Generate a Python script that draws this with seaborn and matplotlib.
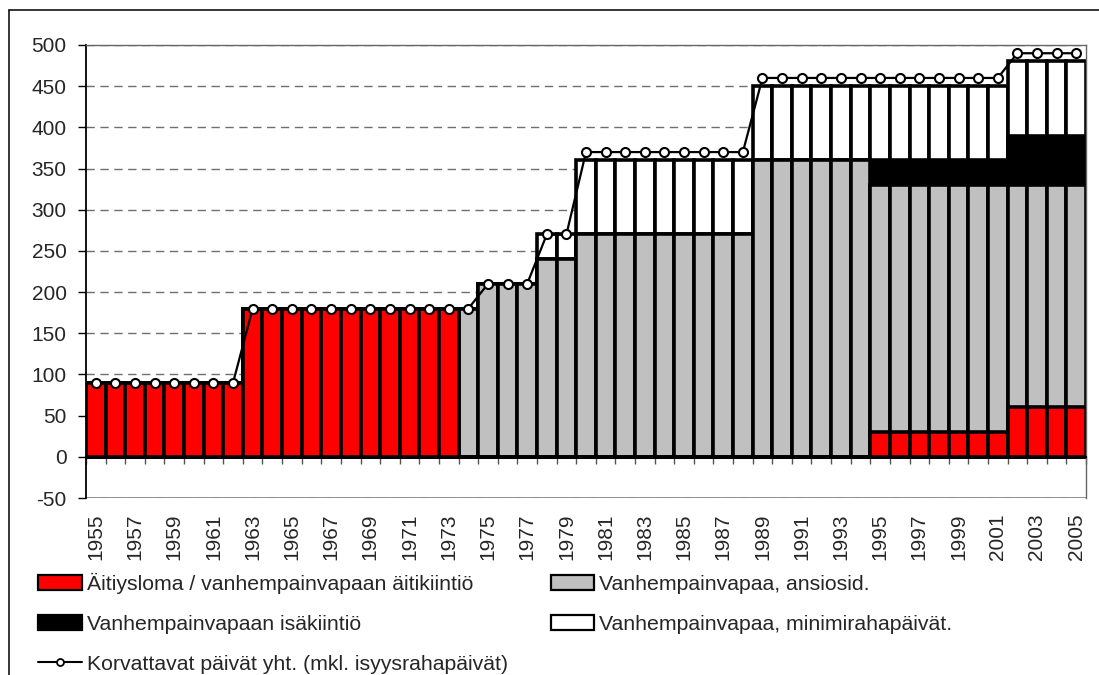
import numpy as np
import pandas as pd
import matplotlib
matplotlib.use("Agg")
import matplotlib.pyplot as plt
from matplotlib.patches import Patch
from matplotlib.lines import Line2D
import seaborn as sns

# --- data (days per year) ---
years = list(range(1955, 2006))

# Äitiysloma / vanhempainvapaan äitikiintiö
aiti = [90, 90, 90, 90, 90, 90, 90, 90, 180, 180,        # 1955-1964
        180, 180, 180, 180, 180, 180, 180, 180, 180, 0,  # 1965-1974
        0, 0, 0, 0, 0, 0, 0, 0, 0, 0,                    # 1975-1984
        0, 0, 0, 0, 0, 0, 0, 0, 0, 0,                    # 1985-1994
        30, 30, 30, 30, 30, 30, 30, 60, 60, 60,          # 1995-2004
        60]                                              # 2005

# Vanhempainvapaa, ansiosid.
ansio = [0, 0, 0, 0, 0, 0, 0, 0, 0, 0,
         0, 0, 0, 0, 0, 0, 0, 0, 0, 180,
         210, 210, 210, 240, 240, 270, 270, 270, 270, 270,
         270, 270, 270, 270, 360, 360, 360, 360, 360, 360,
         300, 300, 300, 300, 300, 300, 300, 270, 270, 270,
         270]

# Vanhempainvapaan isäkiintiö
isa = [0, 0, 0, 0, 0, 0, 0, 0, 0, 0,
       0, 0, 0, 0, 0, 0, 0, 0, 0, 0,
       0, 0, 0, 0, 0, 0, 0, 0, 0, 0,
       0, 0, 0, 0, 0, 0, 0, 0, 0, 0,
       30, 30, 30, 30, 30, 30, 30, 60, 60, 60,
       60]

# Vanhempainvapaa, minimirahapäivät
minimi = [0, 0, 0, 0, 0, 0, 0, 0, 0, 0,
          0, 0, 0, 0, 0, 0, 0, 0, 0, 0,
          0, 0, 0, 30, 30, 90, 90, 90, 90, 90,
          90, 90, 90, 90, 90, 90, 90, 90, 90, 90,
          90, 90, 90, 90, 90, 90, 90, 90, 90, 90,
          90]

# Korvattavat päivät yht. (mkl. isyysrahapäivät)
yht = [90, 90, 90, 90, 90, 90, 90, 90, 180, 180,
       180, 180, 180, 180, 180, 180, 180, 180, 180, 180,
       210, 210, 210, 270, 270, 370, 370, 370, 370, 370,
       370, 370, 370, 370, 460, 460, 460, 460, 460, 460,
       460, 460, 460, 460, 460, 460, 460, 490, 490, 490,
       490]

y_ticks = [-50, 0, 50, 100, 150, 200, 250, 300, 350, 400, 450, 500]

labels = ["Äitiysloma / vanhempainvapaan äitikiintiö",
          "Vanhempainvapaa, ansiosid.",
          "Vanhempainvapaan isäkiintiö",
          "Vanhempainvapaa, minimirahapäivät.",
          "Korvattavat päivät yht. (mkl. isyysrahapäivät)"]

RED = "#ff0000"
GREY = "#c0c0c0"


def main():
    sns.set_style("white")
    plt.rcParams["font.family"] = ["Liberation Sans", "DejaVu Sans"]

    df = pd.DataFrame({"vuosi": years, "aiti": aiti, "ansio": ansio,
                       "isa": isa, "minimi": minimi, "yht": yht})
    # stack tops
    df["c_aiti"] = df["aiti"]
    df["c_ansio"] = df["c_aiti"] + df["ansio"]
    df["c_isa"] = df["c_ansio"] + df["isa"]
    df["c_minimi"] = df["c_isa"] + df["minimi"]

    fig = plt.figure(figsize=(10.99, 6.75), dpi=100)
    ax = fig.add_axes([86 / 1099, 1 - 498 / 675, 1000 / 1099, 453 / 675])

    # draw the tallest layer first, lower layers on top of it
    for col, color in [("c_minimi", "white"), ("c_isa", "black"),
                       ("c_ansio", GREY), ("c_aiti", RED)]:
        sns.barplot(data=df, x="vuosi", y=col, color=color, saturation=1,
                    width=1.0, edgecolor="black", linewidth=2.6,
                    errorbar=None, ax=ax, zorder=2)

    sns.pointplot(data=df, x="vuosi", y="yht", color="black", markers="o",
                  linewidth=1.6, markersize=6.5, markerfacecolor="white",
                  markeredgecolor="black", markeredgewidth=1.5,
                  errorbar=None, ax=ax, zorder=5)

    ax.set_xlabel("")
    ax.set_ylabel("")
    ax.set_ylim(-50, 500)
    ax.set_xlim(-0.5, len(years) - 0.5)
    ax.set_yticks(y_ticks)
    ax.set_yticklabels([str(v) for v in y_ticks])

    ax.set_xticks(range(len(years)))
    ax.set_xticklabels([str(y) if i % 2 == 0 else "" for i, y in enumerate(years)])
    ax.set_xticks(np.arange(len(years) + 1) - 0.5, minor=True)

    ax.tick_params(axis="x", which="major", bottom=True, length=0, pad=41,
                   labelsize=15, labelrotation=90)
    ax.tick_params(axis="x", which="minor", bottom=True, length=5, width=1,
                   color="#555555", direction="out")
    ax.tick_params(axis="y", left=True, length=6, width=1, color="black",
                   direction="out", pad=8, labelsize=15)

    ax.set_axisbelow(True)
    ax.yaxis.grid(True, color="#6f6f6f", linestyle=(0, (6, 4)), linewidth=1)
    ax.xaxis.grid(False)
    ax.axhline(-50, color="#7f7f7f", linewidth=1.2, zorder=1)

    ax.spines["bottom"].set_position(("data", 0))
    ax.spines["bottom"].set_color("black")
    ax.spines["bottom"].set_linewidth(1.5)
    ax.spines["left"].set_color("black")
    ax.spines["left"].set_linewidth(1.3)
    for s in ["top", "right"]:
        ax.spines[s].set_visible(True)
        ax.spines[s].set_color("#666666")
        ax.spines[s].set_linewidth(1)

    # legend: column 1 -> red, black, line; column 2 -> grey, white
    handles = [
        Patch(facecolor=RED, edgecolor="black", linewidth=1.6),
        Patch(facecolor="black", edgecolor="black", linewidth=1.6),
        Line2D([], [], color="black", linewidth=1.5, marker="o", markersize=5,
               markerfacecolor="white", markeredgecolor="black", markeredgewidth=1.3),
        Patch(facecolor=GREY, edgecolor="black", linewidth=1.6),
        Patch(facecolor="white", edgecolor="black", linewidth=1.6),
    ]
    leg_labels = [labels[0], labels[2], labels[4], labels[1], labels[3]]
    fig.legend(handles, leg_labels, loc="upper left",
               bbox_to_anchor=(38 / 1099, 1 - 573 / 675), ncol=2,
               frameon=False, fontsize=15.3, borderpad=0, borderaxespad=0,
               handlelength=2.05, handleheight=0.7, handletextpad=0.25,
               labelspacing=0.98, columnspacing=2.0)

    # outer chart frame (runs off the right and bottom edges)
    fig.add_artist(Line2D([8.5 / 1099, 8.5 / 1099], [-0.1, 1 - 10 / 675],
                          transform=fig.transFigure, color="black", linewidth=1.1))
    fig.add_artist(Line2D([8.5 / 1099, 1.1], [1 - 10 / 675, 1 - 10 / 675],
                          transform=fig.transFigure, color="black", linewidth=1.1))

    fig.savefig("out.png", dpi=100)
    plt.close(fig)


if __name__ == "__main__":
    main()
